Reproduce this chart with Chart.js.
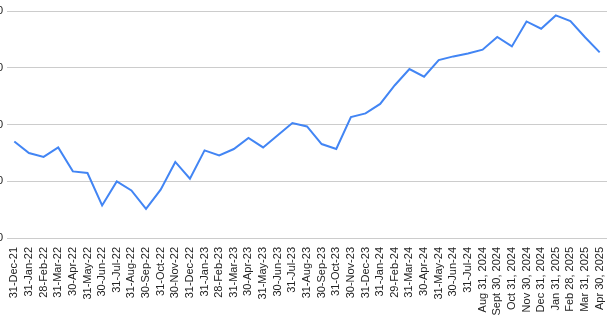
<!DOCTYPE html>
<html>
<head>
<meta charset="utf-8">
<script src="https://cdn.jsdelivr.net/npm/chart.js@4/dist/chart.umd.min.js"></script>
<style>
  html, body { margin: 0; padding: 0; background: #fff; overflow: hidden; }
  #wrap { position: absolute; left: -40px; top: 0; width: 653px; height: 327px; }
</style>
</head>
<body>
<div id="wrap"><canvas id="chart"></canvas></div>
<script>
// ===== DATA =====
const labels = [
  "31-Dec-21", "31-Jan-22", "28-Feb-22", "31-Mar-22", "30-Apr-22", "31-May-22",
  "30-Jun-22", "31-Jul-22", "31-Aug-22", "30-Sep-22", "31-Oct-22", "30-Nov-22",
  "31-Dec-22", "31-Jan-23", "28-Feb-23", "31-Mar-23", "30-Apr-23", "31-May-23",
  "30-Jun-23", "31-Jul-23", "31-Aug-23", "30-Sep-23", "31-Oct-23", "30-Nov-23",
  "31-Dec-23", "31-Jan-24", "29-Feb-24", "31-Mar-24", "30-Apr-24", "31-May-24",
  "30-Jun-24", "31-Jul-24", "Aug 31, 2024", "Sept 30, 2024", "Oct 31, 2024",
  "Nov 30, 2024", "Dec 31, 2024", "Jan 31, 2025", "Feb 28, 2025", "Mar 31, 2025",
  "Apr 30, 2025"
];

const values = [
  85.1, 74.9, 71.4, 79.8, 58.7, 57.3, 28.7, 49.9, 41.9, 25.6, 42.6, 67.0,
  52.2, 77.2, 72.8, 78.4, 88.1, 79.8, 90.6, 101.3, 98.3, 82.8, 78.4, 106.6,
  109.8, 118.1, 134.6, 148.9, 142.1, 156.8, 160.0, 162.6, 165.9, 177.1, 168.8,
  190.8, 184.4, 196.1, 191.2, 176.9, 163.5
];

const yTicks = [0, 50, 100, 150, 200];

// ===== CHART =====
new Chart(document.getElementById("chart"), {
  type: "line",
  data: {
    labels: labels,
    datasets: [{
      data: values,
      borderColor: "#4285f4",
      borderWidth: 2,
      pointRadius: 0,
      tension: 0,
      fill: false
    }]
  },
  options: {
    responsive: true,
    maintainAspectRatio: false,
    animation: false,
    layout: { padding: { top: 11, right: 6, bottom: 0, left: 0 } },
    plugins: { legend: { display: false }, tooltip: { enabled: false } },
    scales: {
      x: {
        offset: true,
        afterFit: axis => {
          axis.height = 89;
          axis.paddingLeft = 0;
          axis.paddingRight = 0;
        },
        grid: { display: false, drawTicks: false },
        border: { display: false },
        ticks: {
          autoSkip: false,
          maxRotation: 90,
          minRotation: 90,
          padding: 9,
          color: "#222",
          font: { family: "'Liberation Sans', Arial, sans-serif", size: 11 }
        }
      },
      y: {
        min: yTicks[0],
        max: yTicks[yTicks.length - 1],
        afterBuildTicks: axis => { axis.ticks = yTicks.map(v => ({ value: v })); },
        afterFit: axis => { axis.width = 47; },
        grid: { color: "#cccccc", lineWidth: 1, drawTicks: false },
        border: { display: false },
        ticks: {
          padding: 4,
          color: "#222",
          font: { family: "'Liberation Sans', Arial, sans-serif", size: 11 }
        }
      }
    }
  }
});
</script>
</body>
</html>
